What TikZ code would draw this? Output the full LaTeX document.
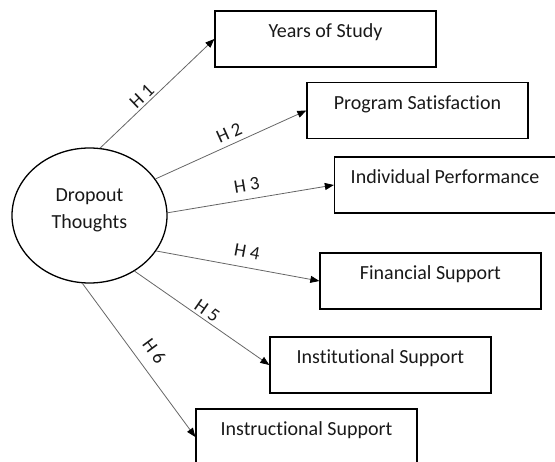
\documentclass[tikz,border=0pt]{standalone}
\usepackage{fontspec}
\setmainfont[Ligatures=NoCommon]{Carlito}
\usetikzlibrary{shapes.geometric,arrows.meta}
\begin{document}
\begin{tikzpicture}[x=1pt,y=-1pt,
  ent/.style={draw=black, line width=1.3pt, minimum width=221pt, minimum height=56pt,
    inner sep=0pt, text height=13pt, text depth=15pt, text=black!90,
    font=\fontsize{20}{24}\selectfont},
  ell/.style={draw=black, line width=1.3pt, ellipse, minimum width=155pt, minimum height=135pt,
    inner sep=0pt, text=black!90, font=\fontsize{20}{26.5}\selectfont},
  conn/.style={draw=black!60, line width=0.8pt, -{Triangle[length=9pt,width=7pt,color=black]}},
  lab/.style={sloped, inner sep=2pt, text=black!90, font=\fontsize{19}{22}\selectfont}
]
\useasboundingbox (0,0) rectangle (555,462);
\clip (0,0) rectangle (555,462);
\node[ell] (dt) at (89.5,215.5) {\raisebox{6pt}[\height][\depth]{\begin{tabular}{@{}c@{}}Dropout\\Thoughts\end{tabular}}};
\node[ent] (b1) at (325.5,39) {Years of Study};
\node[ent] (b2) at (417.5,110.5) {Program Satisfaction};
\node[ent] (b3) at (445,185) {Individual Performance};
\node[ent] (b4) at (430.5,281) {Financial Support};
\node[ent] (b5) at (380.5,365) {Institutional Support};
\node[ent] (b6) at (306.5,437) {Instructional Support};
\draw[conn] (dt.81) -- node[lab, pos=0.415, above=0pt] {H 1} (b1.west);
\draw[conn] (dt.29) -- node[lab, pos=0.52, above=3pt] {H 2} (b2.west);
\draw[conn] (dt.2) -- node[lab, pos=0.49, above=5.5pt] {H 3} (b3.west);
\draw[conn] (dt.-28) -- node[lab, pos=0.54, above=7pt] {H 4} (b4.west);
\draw[conn] (dt.-51) -- node[lab, pos=0.5, above=0.5pt] {H 5} (b5.west);
\draw[conn] (dt.-96) -- node[lab, pos=0.51, above=9pt] {H 6} (b6.west);
\end{tikzpicture}
\end{document}
